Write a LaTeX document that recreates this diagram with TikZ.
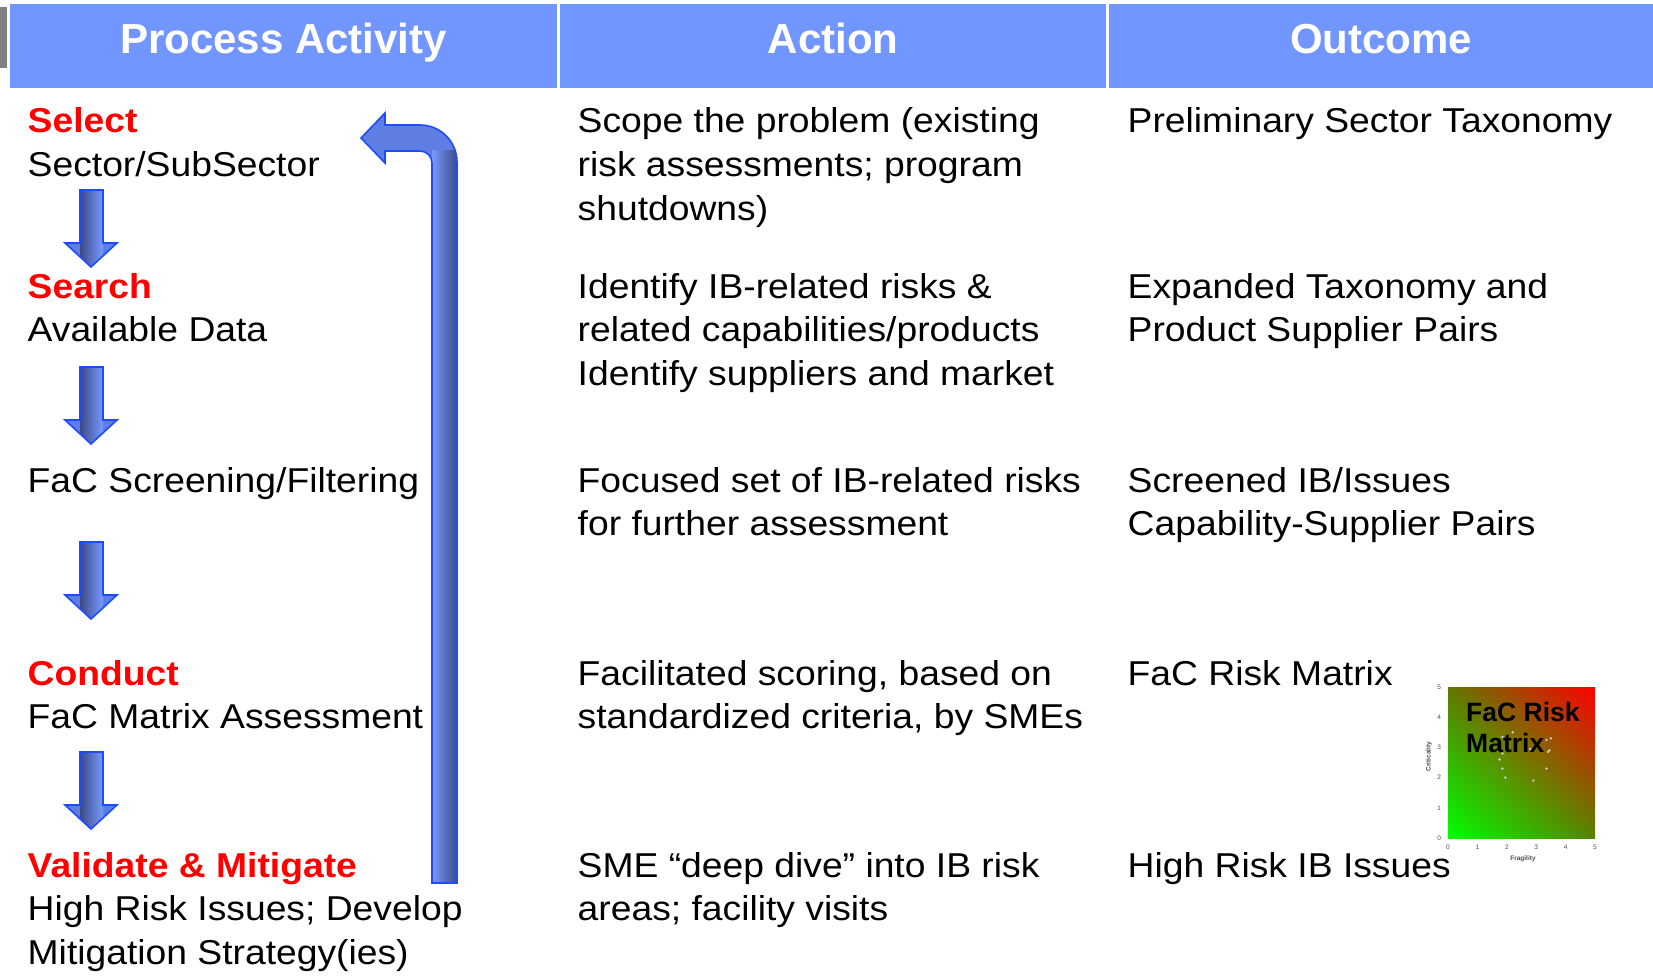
\documentclass[tikz,border=0pt]{standalone}
\usepackage{fontspec}
\setmainfont{Liberation Sans}
\newfontfamily\bodyfont[FakeStretch=1.08]{Liberation Sans}
\usetikzlibrary{calc,positioning,shadings}
\definecolor{headblue}{RGB}{114,150,255}
\definecolor{bargray}{RGB}{128,128,128}
\definecolor{arrowdark}{RGB}{60,74,135}
\definecolor{arrowlight}{RGB}{120,154,255}
\definecolor{arrowmid}{RGB}{94,126,228}
\definecolor{arrowedge}{RGB}{28,76,255}
\newcommand{\stage}[1]{\textcolor{red}{\bfseries #1}}
% outline of a down arrow, top at y=#1
\newcommand{\dnpath}[1]{(80,#1) -- (103,#1) -- (103,{#1+53}) -- (117,{#1+53}) -- (91,{#1+77}) -- (65,{#1+53}) -- (80,{#1+53}) -- cycle}
% outline of the loop-back arrow
\newcommand{\backpath}{(432,883) -- (432,163) arc[start angle=0,end angle=90,radius=12pt] -- (385,151) -- (385,163) -- (361,138) -- (385,113) -- (385,125) -- (420,125) arc[start angle=90,end angle=0,radius=37pt] -- (457,883) -- cycle}

\begin{document}
\begin{tikzpicture}[x=1pt,y=-1pt,
  body/.style={font=\bodyfont\fontsize{34.5}{43.8}\selectfont,anchor=base west,inner sep=0pt,align=left},
  head/.style={font=\bfseries\fontsize{42}{50}\selectfont,text=white,anchor=base,inner sep=0pt},
  tick/.style={font=\fontsize{6.5}{7}\selectfont,text=black!70,inner sep=0pt}]
\useasboundingbox (0,0) rectangle (1653,977);
% header bar
\fill[bargray] (0,7) rectangle (7,68);
\fill[headblue] (10,4) rectangle (557,88);
\fill[headblue] (560,4) rectangle (1106,88);
\fill[headblue] (1109,4) rectangle (1653,88);
\node[head] (hproc) at (283.5,53.3) {Process Activity};
\node[head] (hact) at (833,53.3) {Action};
\node[head] (hout) at (1381,53.3) {Outcome};
% process activity column (nodes sit on the baseline of their last line)
\node[body] (sel) at (27.5,176.3) {\stage{Select}\\Sector/SubSector};
\node[body] (srch) at (27.5,341.8) {\stage{Search}\\Available Data};
\node[body] (scr) at (27.5,492) {FaC Screening/Filtering};
\node[body] (cond) at (27.5,728.8) {\stage{Conduct}\\FaC Matrix Assessment};
\node[body] (val) at (27.5,964.6) {\stage{Validate \& Mitigate}\\High Risk Issues; Develop\\Mitigation Strategy(ies)};
% action column
\node[body] (act1) at (577.5,220.1) {Scope the problem (existing\\risk assessments; program\\shutdowns)};
\node[body] (act2) at (577.5,385.6) {Identify IB-related risks \&\\related capabilities/products\\Identify suppliers and market};
\node[body] (act3) at (577.5,535.8) {Focused set of IB-related risks\\for further assessment};
\node[body] (act4) at (577.5,728.8) {Facilitated scoring, based on\\standardized criteria, by SMEs};
\node[body] (act5) at (577.5,920.8) {SME “deep dive” into IB risk\\areas; facility visits};
% outcome column
\node[body] (out1) at (1127.5,132.5) {Preliminary Sector Taxonomy};
\node[body] (out2) at (1127.5,341.8) {Expanded Taxonomy and\\Product Supplier Pairs};
\node[body] (out3) at (1127.5,535.8) {Screened IB/Issues\\Capability-Supplier Pairs};
\node[body] (out4) at (1127.5,685) {FaC Risk Matrix};
\node[body] (out5) at (1127.5,877) {High Risk IB Issues};
% down arrows between stages
\foreach \t in {190,367,542,752}{
  \begin{scope}
    \clip \dnpath{\t};
    \fill[arrowmid] (60,\t) rectangle (120,{\t+80});
    \shade[left color=arrowdark,right color=arrowlight] (80,\t) rectangle (103,{\t+80});
  \end{scope}
  \draw[arrowedge,line width=1.6pt,line join=miter] \dnpath{\t};
}
% loop back to Select
\begin{scope}
  \clip \backpath;
  \fill[arrowmid] (355,105) rectangle (460,890);
  \shade[left color=arrowlight,right color=arrowdark] (432,150) rectangle (457,890);
\end{scope}
\draw[arrowedge,line width=1.6pt,line join=miter] \backpath;
% small risk matrix chart
\begin{scope}[shift={(1448,838)},x=29.4pt,y=30.2pt]
  \shade[upper left=red!45!green!85!black,upper right=red,lower left=green,lower right=red!40!green!85!black] (0,0) rectangle (5,5);
  \foreach \i in {0,...,5}{
    \node[tick] at (\i,-0.3) {\i};
    \node[tick] at (-0.3,\i) {\i};
  }
  \node[tick,font=\bfseries\fontsize{6.5}{7}\selectfont] (fragl) at (2.55,-0.7) {Fragility};
  \node[tick,font=\bfseries\fontsize{6.5}{7}\selectfont,rotate=90] (critl) at (-0.65,2.7) {Criticality};
  \foreach \a/\b in {2.2/3.5,1.85/3.35,3.35/3.25,3.5/3.3,2.8/2.95,3.45/2.9,3.4/2.85,1.85/2.8,1.75/2.6,1.85/2.3,3.35/2.3,1.95/2.0,2.9/1.9}
    \fill[white!65!gray] (\a,\b) circle (1.3pt);
\end{scope}
\node[anchor=base west,inner sep=0pt,align=left,font=\bfseries\fontsize{26.5}{31}\selectfont] (mtitle) at (1466,752.7) {FaC Risk\\Matrix};
\end{tikzpicture}
\end{document}
